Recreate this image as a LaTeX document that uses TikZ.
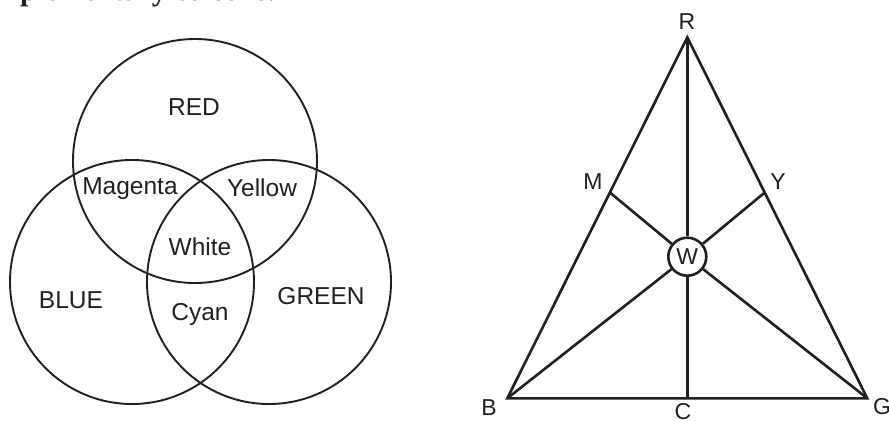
\documentclass[tikz,border=0pt]{standalone}
\usepackage{fontspec}
\usetikzlibrary{calc}
\setmainfont{Liberation Sans}
\newfontfamily\headserif{Liberation Serif}
\definecolor{ink}{HTML}{231F20}
\begin{document}
\begin{tikzpicture}[x=1pt,y=-1pt,
  venn/.style={draw=ink,line width=1.9pt,circle,minimum size=244pt,inner sep=0pt},
  vlabel/.style={font=\fontsize{24.5}{28}\selectfont,text=ink,inner sep=0pt},
  tri/.style={draw=ink,line width=2.6pt},
  tlabel/.style={font=\fontsize{23}{26}\selectfont,text=ink,inner sep=0pt}]
\useasboundingbox (0,0) rectangle (889,421);
\clip (0,0) rectangle (889,421);
% cropped heading (only its lowest part lies inside the picture)
\node[anchor=base west,inner sep=0pt,text=ink,font=\fontsize{30}{32}\selectfont\headserif\bfseries] (head) at (20,0.5) {plementary colours.};
% Venn diagram
\node[venn] (red) at (195,161) {};
\node[venn] (blue) at (132,282) {};
\node[venn] (green) at (269,282) {};
\node[vlabel] (lred) at (194,107) {RED};
\node[vlabel] (lmag) at (130,189) {Magenta};
\node[vlabel] (lyel) at (262,188) {Yellow};
\node[vlabel] (lwhi) at (200,247) {White};
\node[vlabel] (lblu) at (71,300) {BLUE};
\node[vlabel] (lcya) at (200,314) {Cyan};
\node[vlabel] (lgre) at (321,296) {GREEN};
% colour triangle
\coordinate (R) at (687.3,37.3);
\coordinate (B) at (507.3,398.3);
\coordinate (G) at (867.3,398.3);
\coordinate (C) at (687.3,398.3);
\coordinate (M) at ($(R)!0.43!(B)$);
\coordinate (Y) at ($(R)!0.43!(G)$);
\node[tri,circle,minimum size=38pt,inner sep=0pt,tlabel] (w) at (687.3,256.7) {W};
\draw[tri] (R) -- (B) -- (G) -- cycle;
\draw[tri] (R) -- (w);
\draw[tri] (w) -- (C);
\draw[tri] (M) -- (w);
\draw[tri] (Y) -- (w);
\draw[tri] (B) -- (w);
\draw[tri] (G) -- (w);
\node[tlabel] (lR) at (687,22) {R};
\node[tlabel] (lM) at (593,182) {M};
\node[tlabel] (lY) at (778,182) {Y};
\node[tlabel] (lB) at (489,408) {B};
\node[tlabel] (lC) at (683,412) {C};
\node[tlabel] (lG) at (882,407) {G};
\end{tikzpicture}
\end{document}
